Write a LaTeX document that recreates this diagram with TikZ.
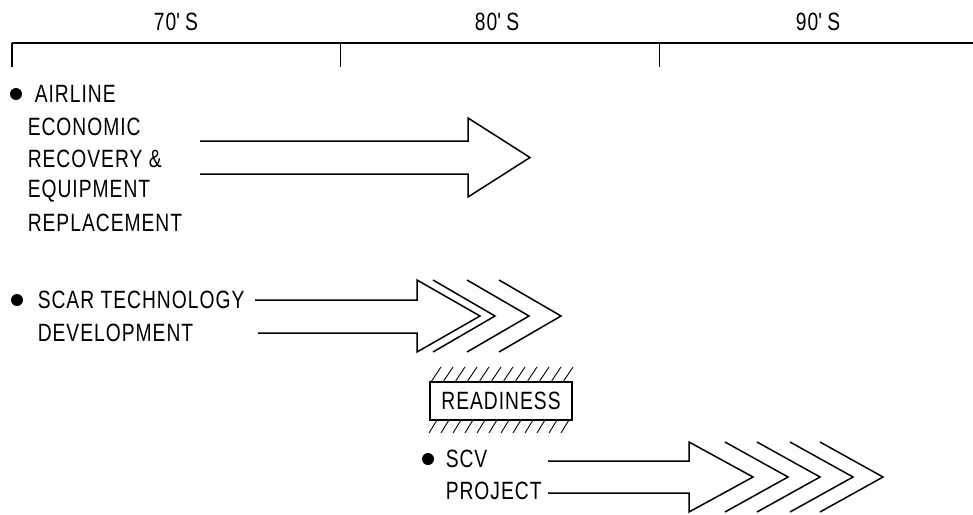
\documentclass[tikz,border=0pt]{standalone}
\usepackage{fontspec}
\setmainfont[FakeStretch=0.77,LetterSpace=4]{Liberation Sans}
\begin{document}
\begin{tikzpicture}[x=1pt,y=-1pt,line width=1.5pt,line join=miter,
  txt/.style={font=\fontsize{25}{25}\selectfont,inner sep=0pt,anchor=west},
  lbl/.style={font=\fontsize{25}{25}\selectfont,inner sep=0pt},
  bul/.style={circle,fill=black,inner sep=0pt,minimum size=12pt},
  hatch/.style={line width=0.9pt}]
\useasboundingbox (0,0) rectangle (973,514);
% timeline
\coordinate (t0) at (12,43);
\coordinate (t1) at (340,43);
\coordinate (t2) at (659,43);
\coordinate (tend) at (973,43);
\draw (t0) -- (tend);
\draw (t0) -- ++(0,24);
\draw[line width=0.9pt] (t1) -- ++(0,24);
\draw[line width=0.9pt] (t2) -- ++(0,24);
\node[lbl] (d70) at (176,22) {70\textquotesingle\,S};
\node[lbl] (d80) at (497,22) {80\textquotesingle\,S};
\node[lbl] (d90) at (818,22) {90\textquotesingle\,S};

% row 1
\node[bul] (b1) at (16,94) {};
\node[txt] (a1) at (34,94) {AIRLINE};
\node[txt] (a2) at (27,127) {ECONOMIC};
\node[txt] (a3) at (27,159) {RECOVERY \&};
\node[txt] (a4) at (27,191) {EQUIPMENT};
\node[txt] (a5) at (27,223) {REPLACEMENT};
\draw (200,141) -- (468,141) -- (468,118) -- (530,157.5) -- (468,197) -- (468,174) -- (200,174);

% row 2
\node[bul] (b2) at (17,300) {};
\node[txt] (s1) at (37,300) {SCAR TECHNOLOGY};
\node[txt] (s2) at (37,333) {DEVELOPMENT};
\draw (255,300) -- (417,300) -- (417,280) -- (480,316) -- (417,352) -- (417,333) -- (258,333);
\foreach \x in {433,467,499}{
  \draw (\x,280) -- ++(62,36) -- ++(-62,36);
}

% readiness
\node[draw,line width=1.3pt,minimum width=142pt,minimum height=38pt,inner sep=0pt,
  font=\fontsize{25}{25}\selectfont] (r) at (501,401) {READINESS};
\foreach \x in {431,443,...,563}{
  \draw[hatch] (\x,382) -- ++(10,-15);
}
\foreach \x in {429,441,...,561}{
  \draw[hatch] (\x,433) -- ++(8,-13);
}

% row 3
\node[bul] (b3) at (428,459) {};
\node[txt] (p1) at (445,459) {SCV};
\node[txt] (p2) at (445,491) {PROJECT};
\draw (548,461) -- (689,461) -- (689,442) -- (753,477) -- (689,512) -- (689,493) -- (548,493);
\foreach \x in {725,757,790,820}{
  \draw (\x,442) -- ++(63,35) -- ++(-63,35);
}
\end{tikzpicture}
\end{document}
